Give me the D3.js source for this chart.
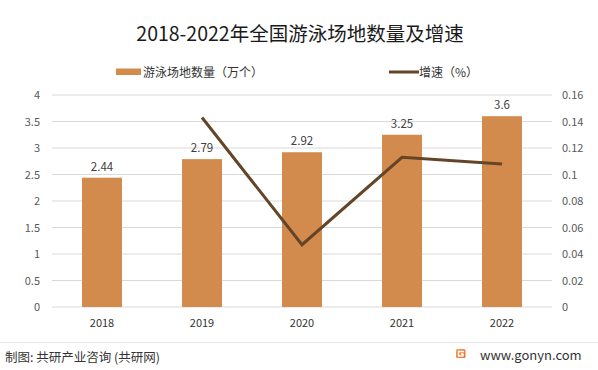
<!DOCTYPE html>
<html>
<head>
<meta charset="utf-8">
<script src="https://cdn.jsdelivr.net/npm/d3@7"></script>
<style>
  body { margin: 0; background: #fff; }
  svg text { font-family: "Noto Sans CJK SC", "Noto Sans", sans-serif; }
</style>
</head>
<body>
<div id="chart"></div>
<script>
const years = ['2018', '2019', '2020', '2021', '2022'];
const venues = [2.44, 2.79, 2.92, 3.25, 3.6];
const growth = [null, 0.143, 0.047, 0.113, 0.108];
const leftTicks = [0, 0.5, 1, 1.5, 2, 2.5, 3, 3.5, 4];
const rightTicks = [0, 0.02, 0.04, 0.06, 0.08, 0.1, 0.12, 0.14, 0.16];

const W = 598, H = 370;
const margin = {top: 95, right: 46, bottom: 63, left: 52};
const width = W - margin.left - margin.right;
const height = H - margin.top - margin.bottom;

const svg = d3.select('#chart')
  .append('svg')
    .attr('width', W)
    .attr('height', H);

// title
svg.append('text')
  .attr('x', 300).attr('y', 41)
  .attr('text-anchor', 'middle')
  .attr('font-size', 19.5)
  .attr('fill', '#1a1a1a')
  .text('2018-2022年全国游泳场地数量及增速');

// legend
const legend = svg.append('g').attr('font-size', 12).attr('fill', '#333');
legend.append('rect')
  .attr('x', 116).attr('y', 68.5).attr('width', 25).attr('height', 6.5)
  .attr('fill', '#D38B4D');
legend.append('text')
  .attr('x', 143).attr('y', 76.5)
  .attr('fill', '#333')
  .text('游泳场地数量（万个）');
legend.append('line')
  .attr('x1', 389).attr('x2', 419).attr('y1', 72).attr('y2', 72)
  .attr('stroke', '#654527').attr('stroke-width', 3);
legend.append('text')
  .attr('x', 419).attr('y', 76.5)
  .attr('fill', '#333')
  .text('增速（%）');

const g = svg.append('g')
  .attr('transform', 'translate(' + margin.left + ',' + margin.top + ')');

const x = d3.scaleBand()
  .domain(years)
  .range([0, width])
  .paddingInner(0.6)
  .paddingOuter(0.3);

const y = d3.scaleLinear().domain([0, 4]).range([height, 0]);
const y2 = d3.scaleLinear().domain([0, 0.16]).range([height, 0]);

// gridlines
g.append('g')
  .selectAll('line')
  .data(leftTicks)
  .join('line')
    .attr('x1', 0).attr('x2', width)
    .attr('y1', d => y(d)).attr('y2', d => y(d))
    .attr('stroke', '#d9d9d9')
    .attr('stroke-width', 1);

// left axis
g.append('g')
  .call(d3.axisLeft(y).tickValues(leftTicks).tickSize(0).tickPadding(12).tickFormat(d3.format('')))
  .call(a => a.select('.domain').remove())
  .call(a => a.selectAll('text').attr('font-size', 11).attr('fill', '#595959'));

// right axis
g.append('g')
  .attr('transform', 'translate(' + width + ',0)')
  .call(d3.axisRight(y2).tickValues(rightTicks).tickSize(0).tickPadding(10).tickFormat(d3.format('')))
  .call(a => a.select('.domain').remove())
  .call(a => a.selectAll('text').attr('font-size', 11).attr('fill', '#595959'));

// x axis
g.append('g')
  .attr('transform', 'translate(0,' + height + ')')
  .call(d3.axisBottom(x).tickSize(0).tickPadding(12))
  .call(a => a.select('.domain').remove())
  .call(a => a.selectAll('text').attr('font-size', 11).attr('fill', '#333'));

// bars
g.selectAll('rect.bar')
  .data(venues)
  .join('rect')
    .attr('class', 'bar')
    .attr('x', (d, i) => x(years[i]))
    .attr('y', d => y(d))
    .attr('width', x.bandwidth())
    .attr('height', d => height - y(d))
    .attr('fill', '#D38B4D');

g.selectAll('text.val')
  .data(venues)
  .join('text')
    .attr('class', 'val')
    .attr('x', (d, i) => x(years[i]) + x.bandwidth() / 2)
    .attr('y', d => y(d) - 7)
    .attr('text-anchor', 'middle')
    .attr('font-size', 11.5)
    .attr('fill', '#404040')
    .text(d => d);

// growth line
const line = d3.line()
  .defined(d => d != null)
  .x((d, i) => x(years[i]) + x.bandwidth() / 2)
  .y(d => y2(d));

g.append('path')
  .datum(growth)
  .attr('d', line)
  .attr('fill', 'none')
  .attr('stroke', '#654527')
  .attr('stroke-width', 3);

// footer
svg.append('line')
  .attr('x1', 0).attr('x2', W).attr('y1', 342.5).attr('y2', 342.5)
  .attr('stroke', '#e6e6e6');
svg.append('text')
  .attr('x', 5).attr('y', 362)
  .attr('font-size', 12.5)
  .attr('fill', '#333')
  .text('制图: 共研产业咨询 (共研网)');

const grad = svg.append('defs').append('linearGradient')
  .attr('id', 'logo').attr('x1', 0).attr('y1', 0).attr('x2', 1).attr('y2', 1);
grad.append('stop').attr('offset', 0).attr('stop-color', '#f7a452');
grad.append('stop').attr('offset', 1).attr('stop-color', '#ee6a33');
svg.append('rect')
  .attr('x', 456).attr('y', 349).attr('width', 9.5).attr('height', 9)
  .attr('rx', 1.5)
  .attr('fill', 'url(#logo)');
svg.append('path')
  .attr('d', 'M464,351.5 H458.5 V356 H463 V354 H461')
  .attr('fill', 'none')
  .attr('stroke', '#fff')
  .attr('stroke-width', 1.3);
svg.append('text')
  .attr('x', 480).attr('y', 359.5)
  .attr('font-size', 13)
  .attr('fill', '#333')
  .text('www.gonyn.com');
</script>
</body>
</html>
